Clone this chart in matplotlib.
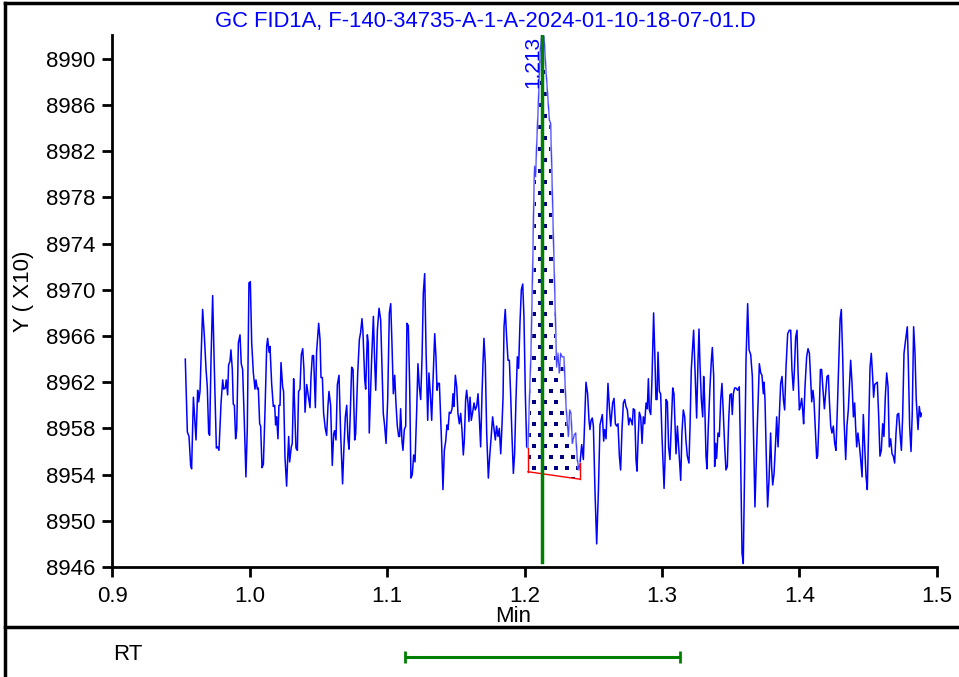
import numpy as np
import matplotlib
matplotlib.use("Agg")
from matplotlib import pyplot as plt
from matplotlib.lines import Line2D

plt.rcParams['font.family'] = ['Liberation Sans', 'DejaVu Sans']
plt.rcParams['font.size'] = 16

title = "GC FID1A, F-140-34735-A-1-A-2024-01-10-18-07-01.D"

# retention time (min) and detector signal (Y x10)
time_min = [
    0.9533, 0.9548, 0.9560, 0.9572, 0.9579, 0.9592, 0.9601, 0.9611, 0.9623, 0.9630,
    0.9640, 0.9659, 0.9672, 0.9684, 0.9693, 0.9703, 0.9710, 0.9720, 0.9732, 0.9744,
    0.9759, 0.9768, 0.9778, 0.9793, 0.9805, 0.9812, 0.9824, 0.9831, 0.9841, 0.9848,
    0.9858, 0.9865, 0.9875, 0.9882, 0.9890, 0.9899, 0.9907, 0.9919, 0.9931, 0.9940,
    0.9950, 0.9962, 0.9974, 0.9984, 0.9996, 1.0006, 1.0016, 1.0028, 1.0040, 1.0047,
    1.0057, 1.0064, 1.0074, 1.0081, 1.0091, 1.0101, 1.0113, 1.0125, 1.0132, 1.0142,
    1.0149, 1.0161, 1.0173, 1.0183, 1.0190, 1.0197, 1.0207, 1.0214, 1.0222, 1.0229,
    1.0241, 1.0248, 1.0258, 1.0270, 1.0277, 1.0285, 1.0292, 1.0304, 1.0311, 1.0321,
    1.0328, 1.0338, 1.0348, 1.0357, 1.0367, 1.0377, 1.0387, 1.0396, 1.0404, 1.0416,
    1.0428, 1.0440, 1.0447, 1.0457, 1.0466, 1.0479, 1.0488, 1.0503, 1.0513, 1.0520,
    1.0530, 1.0539, 1.0551, 1.0561, 1.0571, 1.0578, 1.0590, 1.0602, 1.0612, 1.0619,
    1.0629, 1.0639, 1.0651, 1.0663, 1.0677, 1.0687, 1.0697, 1.0707, 1.0716, 1.0724,
    1.0733, 1.0743, 1.0753, 1.0765, 1.0772, 1.0787, 1.0799, 1.0808, 1.0818, 1.0825,
    1.0838, 1.0845, 1.0857, 1.0864, 1.0871,
    1.0888, 1.0901, 1.0910, 1.0918, 1.0930, 1.0942, 1.0954, 1.0964, 1.0973, 1.0983,
    1.0993, 1.1005, 1.1017, 1.1027, 1.1036, 1.1046, 1.1056, 1.1065, 1.1075, 1.1085,
    1.1092, 1.1099, 1.1109, 1.1116, 1.1126, 1.1136, 1.1145, 1.1155, 1.1165, 1.1174,
    1.1184, 1.1194, 1.1204, 1.1216, 1.1225, 1.1235, 1.1245, 1.1255, 1.1264, 1.1274,
    1.1284, 1.1296, 1.1305, 1.1315, 1.1325, 1.1334, 1.1347, 1.1356, 1.1364, 1.1371,
    1.1381, 1.1388, 1.1398, 1.1407, 1.1417, 1.1427, 1.1436, 1.1444, 1.1453, 1.1463,
    1.1473, 1.1480, 1.1487, 1.1497, 1.1507, 1.1516, 1.1526, 1.1536, 1.1545, 1.1555,
    1.1562, 1.1572, 1.1579, 1.1589, 1.1596, 1.1604, 1.1613, 1.1623, 1.1633, 1.1642,
    1.1652, 1.1662, 1.1671, 1.1681, 1.1691, 1.1698, 1.1705, 1.1715, 1.1725, 1.1737,
    1.1747, 1.1756, 1.1768, 1.1778, 1.1788, 1.1797, 1.1807, 1.1817, 1.1827, 1.1834,
    1.1844, 1.1851, 1.1860, 1.1870, 1.1880, 1.1890, 1.1899, 1.1909, 1.1919, 1.1928,
    1.1938, 1.1948, 1.1957, 1.1967, 1.1977, 1.1987, 1.1996, 1.2006, 1.2016,
    1.2025, 1.2035, 1.2047, 1.2059, 1.2069, 1.2074, 1.2081, 1.2088, 1.2101, 1.2113,
    1.2127, 1.2142, 1.2156, 1.2168, 1.2181, 1.2190, 1.2200, 1.2210, 1.2222, 1.2234,
    1.2244, 1.2253, 1.2263, 1.2273, 1.2287, 1.2302, 1.2319, 1.2329, 1.2338, 1.2348,
    1.2360, 1.2372, 1.2384, 1.2396, 1.2404,
    1.2416, 1.2428, 1.2447, 1.2459, 1.2469, 1.2476, 1.2484, 1.2493, 1.2501, 1.2513,
    1.2525, 1.2537, 1.2549, 1.2566, 1.2576, 1.2583, 1.2593, 1.2607, 1.2617, 1.2627,
    1.2641, 1.2651, 1.2661, 1.2670, 1.2680, 1.2690, 1.2699, 1.2709, 1.2719, 1.2729,
    1.2738, 1.2748, 1.2758, 1.2767, 1.2775, 1.2784, 1.2791, 1.2801, 1.2811, 1.2818,
    1.2828, 1.2835, 1.2845, 1.2855, 1.2864, 1.2874, 1.2884, 1.2893, 1.2901, 1.2908,
    1.2918, 1.2927, 1.2939, 1.2949, 1.2956, 1.2964, 1.2971, 1.2981, 1.2990, 1.3000,
    1.3015, 1.3022, 1.3029, 1.3039, 1.3048, 1.3058, 1.3068, 1.3078, 1.3087, 1.3095,
    1.3102, 1.3112, 1.3121, 1.3136, 1.3145, 1.3155, 1.3165, 1.3174, 1.3184, 1.3196,
    1.3204, 1.3213, 1.3223, 1.3230, 1.3240, 1.3252, 1.3262, 1.3269, 1.3276, 1.3286,
    1.3296, 1.3303, 1.3310, 1.3320, 1.3327, 1.3337, 1.3349, 1.3359, 1.3366, 1.3376,
    1.3383, 1.3390, 1.3397, 1.3407, 1.3417, 1.3427, 1.3436, 1.3446, 1.3456, 1.3465,
    1.3475, 1.3485, 1.3494, 1.3504, 1.3511, 1.3519, 1.3528, 1.3538, 1.3550, 1.3562,
    1.3572, 1.3582, 1.3591, 1.3601, 1.3611, 1.3623, 1.3633, 1.3645, 1.3657, 1.3664,
    1.3676, 1.3693, 1.3708, 1.3718, 1.3727, 1.3737, 1.3742, 1.3749, 1.3759, 1.3768,
    1.3778, 1.3790, 1.3797, 1.3805, 1.3815, 1.3827, 1.3834, 1.3844, 1.3853, 1.3863,
    1.3873, 1.3883, 1.3892, 1.3902, 1.3914, 1.3926, 1.3936, 1.3945, 1.3955, 1.3962,
    1.3972, 1.3982, 1.3989, 1.3999, 1.4006, 1.4016, 1.4023, 1.4030, 1.4040, 1.4052,
    1.4062, 1.4072, 1.4081, 1.4089, 1.4098, 1.4105, 1.4115, 1.4125, 1.4132, 1.4142,
    1.4152, 1.4161, 1.4171, 1.4181, 1.4190, 1.4200, 1.4210, 1.4217, 1.4227, 1.4236,
    1.4246, 1.4256, 1.4265, 1.4275, 1.4285, 1.4295, 1.4304, 1.4314, 1.4324, 1.4336,
    1.4345, 1.4355, 1.4363, 1.4372, 1.4382, 1.4392, 1.4401, 1.4408, 1.4416, 1.4425,
    1.4435, 1.4445, 1.4455, 1.4464, 1.4474, 1.4484, 1.4493, 1.4503, 1.4513, 1.4522,
    1.4532, 1.4539, 1.4547, 1.4556, 1.4566, 1.4576, 1.4585, 1.4595, 1.4605, 1.4614,
    1.4624, 1.4634, 1.4644, 1.4653, 1.4663, 1.4673, 1.4682, 1.4692, 1.4702, 1.4711,
    1.4721, 1.4731, 1.4741, 1.4750, 1.4760, 1.4772, 1.4784, 1.4791, 1.4801, 1.4811,
    1.4820, 1.4830, 1.4840, 1.4849, 1.4862, 1.4871, 1.4881, 1.4886,
]

signal = [
    8964.0, 8957.7, 8957.3, 8954.8, 8954.5, 8960.7, 8959.0, 8957.0, 8961.3, 8960.3,
    8961.2, 8968.3, 8965.9, 8963.1, 8961.6, 8957.6, 8957.4, 8963.9, 8969.5, 8963.3,
    8956.3, 8956.4, 8956.1, 8960.2, 8962.2, 8961.4, 8961.5, 8962.2, 8960.9, 8963.5,
    8963.8, 8964.8, 8963.1, 8960.1, 8960.0, 8957.1, 8957.9, 8965.4, 8966.1, 8963.6,
    8963.1, 8958.7, 8953.8, 8958.0, 8970.6, 8970.7, 8965.4, 8962.8, 8961.4, 8962.2,
    8961.4, 8961.5, 8958.4, 8958.2, 8954.6, 8954.9, 8959.6, 8965.1, 8965.8, 8964.6,
    8965.1, 8961.9, 8959.9, 8960.0, 8958.3, 8959.0, 8957.1, 8960.0, 8960.0, 8963.7,
    8961.6, 8961.2, 8955.5, 8953.0, 8955.2, 8957.3, 8955.1, 8956.4, 8956.7, 8962.3,
    8960.0, 8956.3, 8956.1, 8961.2, 8961.4, 8964.4, 8964.9, 8963.1, 8959.4, 8961.8,
    8960.8, 8959.8, 8962.4, 8964.3, 8964.3, 8959.8, 8964.6, 8967.1, 8965.7, 8962.4,
    8962.4, 8959.3, 8958.0, 8957.4, 8960.0, 8961.2, 8960.0, 8954.8, 8957.5, 8957.8,
    8957.0, 8961.8, 8962.6, 8957.5, 8953.2, 8956.4, 8959.0, 8960.0, 8957.1, 8956.2,
    8959.3, 8963.3, 8963.1, 8957.0, 8957.5, 8962.8, 8965.7, 8966.3, 8967.5, 8966.4,
    8962.2, 8961.4, 8966.1, 8965.4, 8957.6,
    8963.9, 8967.7, 8963.9, 8961.3, 8966.5, 8968.4, 8967.4, 8963.1, 8959.3, 8958.2,
    8956.7, 8960.5, 8968.0, 8968.8, 8965.4, 8961.0, 8962.6, 8960.2, 8958.2, 8957.3,
    8957.3, 8959.7, 8956.9, 8956.1, 8957.9, 8958.2, 8967.1, 8966.9, 8961.6, 8953.7,
    8954.0, 8955.7, 8955.1, 8959.6, 8963.6, 8961.6, 8960.5, 8964.2, 8969.7, 8971.4,
    8964.8, 8958.7, 8962.8, 8961.0, 8958.7, 8961.9, 8966.2, 8964.2, 8961.3, 8961.9,
    8961.9, 8959.6, 8956.4, 8952.7, 8956.1, 8956.9, 8958.3, 8957.9, 8959.4, 8959.3,
    8959.7, 8961.0, 8959.9, 8962.6, 8961.6, 8959.3, 8958.4, 8959.3, 8957.9, 8955.7,
    8956.9, 8960.5, 8961.3, 8960.2, 8958.6, 8960.7, 8958.7, 8959.4, 8960.2, 8959.6,
    8959.9, 8961.0, 8959.0, 8956.4, 8961.0, 8963.6, 8965.8, 8963.6, 8957.6, 8953.7,
    8955.6, 8957.0, 8959.0, 8958.0, 8957.0, 8958.2, 8957.3, 8958.0, 8955.8, 8957.6,
    8960.7, 8966.8, 8968.3, 8965.9, 8963.9, 8963.9, 8961.0, 8957.3, 8954.1, 8955.8,
    8960.5, 8964.2, 8963.2, 8967.1, 8970.0, 8970.5, 8967.7, 8961.0, 8956.4,
    8956.3, 8960.2, 8964.5, 8971.7, 8978.9, 8980.7, 8979.8, 8982.4, 8986.2, 8990.5,
    8992.2, 8991.9, 8989.0, 8987.0, 8984.7, 8984.4, 8979.8, 8974.6, 8968.8, 8963.3,
    8964.5, 8962.8, 8964.5, 8964.2, 8964.2, 8959.9, 8957.3, 8959.6, 8959.3, 8956.7,
    8957.4, 8957.6, 8955.3, 8954.4, 8955.0,
    8956.6, 8955.3, 8962.0, 8961.0, 8958.7, 8957.9, 8958.7, 8958.9, 8958.2, 8952.4,
    8948.0, 8952.4, 8958.3, 8959.2, 8956.9, 8957.9, 8957.1, 8961.9, 8959.9, 8958.2,
    8960.2, 8960.6, 8958.4, 8958.2, 8958.4, 8955.6, 8954.4, 8957.9, 8960.2, 8960.5,
    8959.9, 8959.6, 8958.3, 8958.9, 8958.7, 8958.3, 8959.7, 8959.6, 8955.3, 8954.3,
    8957.6, 8959.4, 8959.0, 8956.7, 8959.0, 8958.4, 8960.2, 8959.7, 8962.3, 8959.6,
    8959.2, 8962.2, 8968.0, 8963.9, 8960.5, 8960.5, 8964.6, 8961.2, 8961.0, 8957.3,
    8952.8, 8955.3, 8960.5, 8960.3, 8956.4, 8955.3, 8958.4, 8961.5, 8961.0, 8958.3,
    8955.8, 8958.2, 8956.4, 8953.5, 8957.6, 8959.6, 8959.0, 8957.0, 8955.6, 8955.0,
    8958.2, 8963.1, 8965.1, 8966.5, 8963.1, 8958.9, 8963.9, 8966.6, 8963.6, 8960.5,
    8959.0, 8962.5, 8960.5, 8955.6, 8954.5, 8958.2, 8961.6, 8963.9, 8965.0, 8962.5,
    8954.7, 8956.7, 8955.4, 8957.6, 8957.3, 8960.5, 8961.9, 8959.3, 8956.4, 8954.4,
    8954.7, 8958.7, 8960.9, 8961.0, 8959.2, 8961.0, 8961.5, 8961.5, 8961.3, 8961.6,
    8955.3, 8947.2, 8946.3, 8954.7, 8963.9, 8968.8, 8964.8, 8964.4, 8962.5, 8958.2,
    8951.2, 8958.2, 8963.6, 8962.8, 8962.6, 8961.0, 8962.0, 8960.5, 8955.3, 8951.2,
    8953.5, 8957.6, 8954.7, 8953.1, 8954.1, 8957.0, 8959.0, 8956.4, 8959.0, 8961.9,
    8962.5, 8960.5, 8959.6, 8963.3, 8966.2, 8966.5, 8966.5, 8963.1, 8961.3, 8962.8,
    8965.9, 8966.5, 8963.1, 8959.6, 8959.9, 8960.6, 8959.6, 8958.4, 8961.6, 8964.2,
    8964.9, 8964.5, 8962.2, 8960.3, 8961.3, 8960.5, 8957.9, 8955.4, 8955.6, 8958.7,
    8963.1, 8963.1, 8961.3, 8959.7, 8961.0, 8962.5, 8962.6, 8960.5, 8958.2, 8957.6,
    8958.2, 8956.7, 8956.1, 8959.6, 8963.6, 8967.4, 8968.3, 8964.2, 8958.7, 8955.3,
    8958.2, 8959.6, 8961.6, 8963.9, 8961.9, 8959.0, 8960.2, 8958.2, 8956.4, 8957.6,
    8956.6, 8955.3, 8953.8, 8959.2, 8956.4, 8953.8, 8952.7, 8958.2, 8963.3, 8964.5,
    8962.5, 8960.7, 8961.8, 8961.9, 8962.0, 8959.0, 8955.6, 8956.1, 8958.4, 8957.3,
    8960.7, 8962.8, 8961.6, 8956.4, 8957.1, 8955.8, 8955.6, 8955.0, 8957.6, 8959.2,
    8959.3, 8957.6, 8956.1, 8959.0, 8964.5, 8965.7, 8966.8, 8963.9, 8958.2, 8956.0,
    8959.3, 8966.8, 8964.5, 8960.5, 8957.9, 8959.9, 8959.0, 8959.3,
]

peak_rt = 1.213
peak_label = "1.213"
baseline_t = [1.2025, 1.2404]
baseline_v = [8954.25, 8953.6]
rt_window = [1.113, 1.313]

xticks = [0.9, 1.0, 1.1, 1.2, 1.3, 1.4, 1.5]
yticks = list(range(8946, 8991, 4))

t = np.array(time_min)
s = np.array(signal)

fig = plt.figure(figsize=(9.59, 6.77), dpi=100)
ax = fig.add_axes([112 / 959, 1 - 567 / 677, 825 / 959, 532 / 677])
ax.set_xlim(0.9, 1.5)
ax.set_ylim(8946, 8992.06)

# integrated peak area, white with a staggered dot texture clipped to it
mask = (t >= baseline_t[0]) & (t <= baseline_t[1])
base = np.interp(t[mask], baseline_t, baseline_v)
area = ax.fill_between(t[mask], base, s[mask], facecolor="white", linewidth=0, zorder=1)

dx, dy = 11 / 1375, 11 / 11.55   # ~11 px grid
gx, gy = [], []
for i, yy in enumerate(np.arange(8946, 8993, dy)):
    xs = np.arange(1.195 + (dx / 2 if i % 2 else 0), 1.25, dx)
    gx.extend(xs)
    gy.extend([yy] * len(xs))
dots = ax.scatter(gx, gy, marker="s", s=8, color="navy", linewidths=0, zorder=1.5)
dots.set_clip_path(area.get_paths()[0], ax.transData)

ax.plot(t, s, color="#0000ff", lw=1.1, zorder=2)
# the integrated part of the trace is drawn thinner in the original
ax.plot(t[mask], s[mask], color="white", lw=1.3, zorder=2.1)
ax.plot(t[mask], s[mask], color="#4040ff", lw=0.8, zorder=2.2)

# baseline with drop lines
ax.plot(baseline_t, baseline_v, color="red", lw=1, zorder=3)
ax.plot([baseline_t[0]] * 2, [baseline_v[0], s[mask][0]], color="red", lw=1, zorder=3)
ax.plot([baseline_t[1]] * 2, [baseline_v[1], s[mask][-1]], color="red", lw=1, zorder=3)

ax.axvline(peak_rt, ymin=0.01, ymax=1, color="green", lw=2.5, zorder=4)
ax.text(peak_rt - 0.0003, 8992.0, peak_label, rotation=90, ha="right", va="top",
        color="#0000ff", fontsize=15)

ax.set_xticks(xticks)
ax.set_xticklabels([f"{v:.1f}" for v in xticks])
ax.set_yticks(yticks)
for side in ["top", "right"]:
    ax.spines[side].set_visible(False)
for side in ["left", "bottom"]:
    ax.spines[side].set_linewidth(2)
ax.tick_params(direction="out", length=7, width=2, labelsize=16)
ax.tick_params(axis="y", pad=5)
ax.tick_params(axis="x", pad=7)

fig.text(485 / 959, 1 - 22 / 677, title, ha="center", va="center", color="#0000ff", fontsize=15.8)
fig.text(24 / 959, 1 - 291 / 677, "Y ( X10)", rotation=90, ha="center", va="center", fontsize=16)
fig.text(513 / 959, 1 - 616 / 677, "Min", ha="center", va="center", fontsize=16)

# frame lines
fig.add_artist(Line2D([5 / 959, 1], [1 - 3 / 677] * 2, transform=fig.transFigure, color="black", lw=2.5))
fig.add_artist(Line2D([5 / 959] * 2, [0, 1 - 3 / 677], transform=fig.transFigure, color="black", lw=2.5))
fig.add_artist(Line2D([5 / 959, 1], [1 - 627 / 677] * 2, transform=fig.transFigure, color="black", lw=2.5))

# RT window strip
rt_ax = fig.add_axes([112 / 959, 0, 825 / 959, 48 / 677])
rt_ax.set_xlim(0.9, 1.5)
rt_ax.set_ylim(0, 1)
rt_ax.axis("off")
center = (rt_window[0] + rt_window[1]) / 2
rt_ax.errorbar([center], [0.42], xerr=[(rt_window[1] - rt_window[0]) / 2],
               color="green", lw=2.2, capsize=4.5, capthick=2)
fig.text(113 / 959, 1 - 655 / 677, "RT", ha="left", va="center", fontsize=16)

fig.savefig("out.png", dpi=100)
